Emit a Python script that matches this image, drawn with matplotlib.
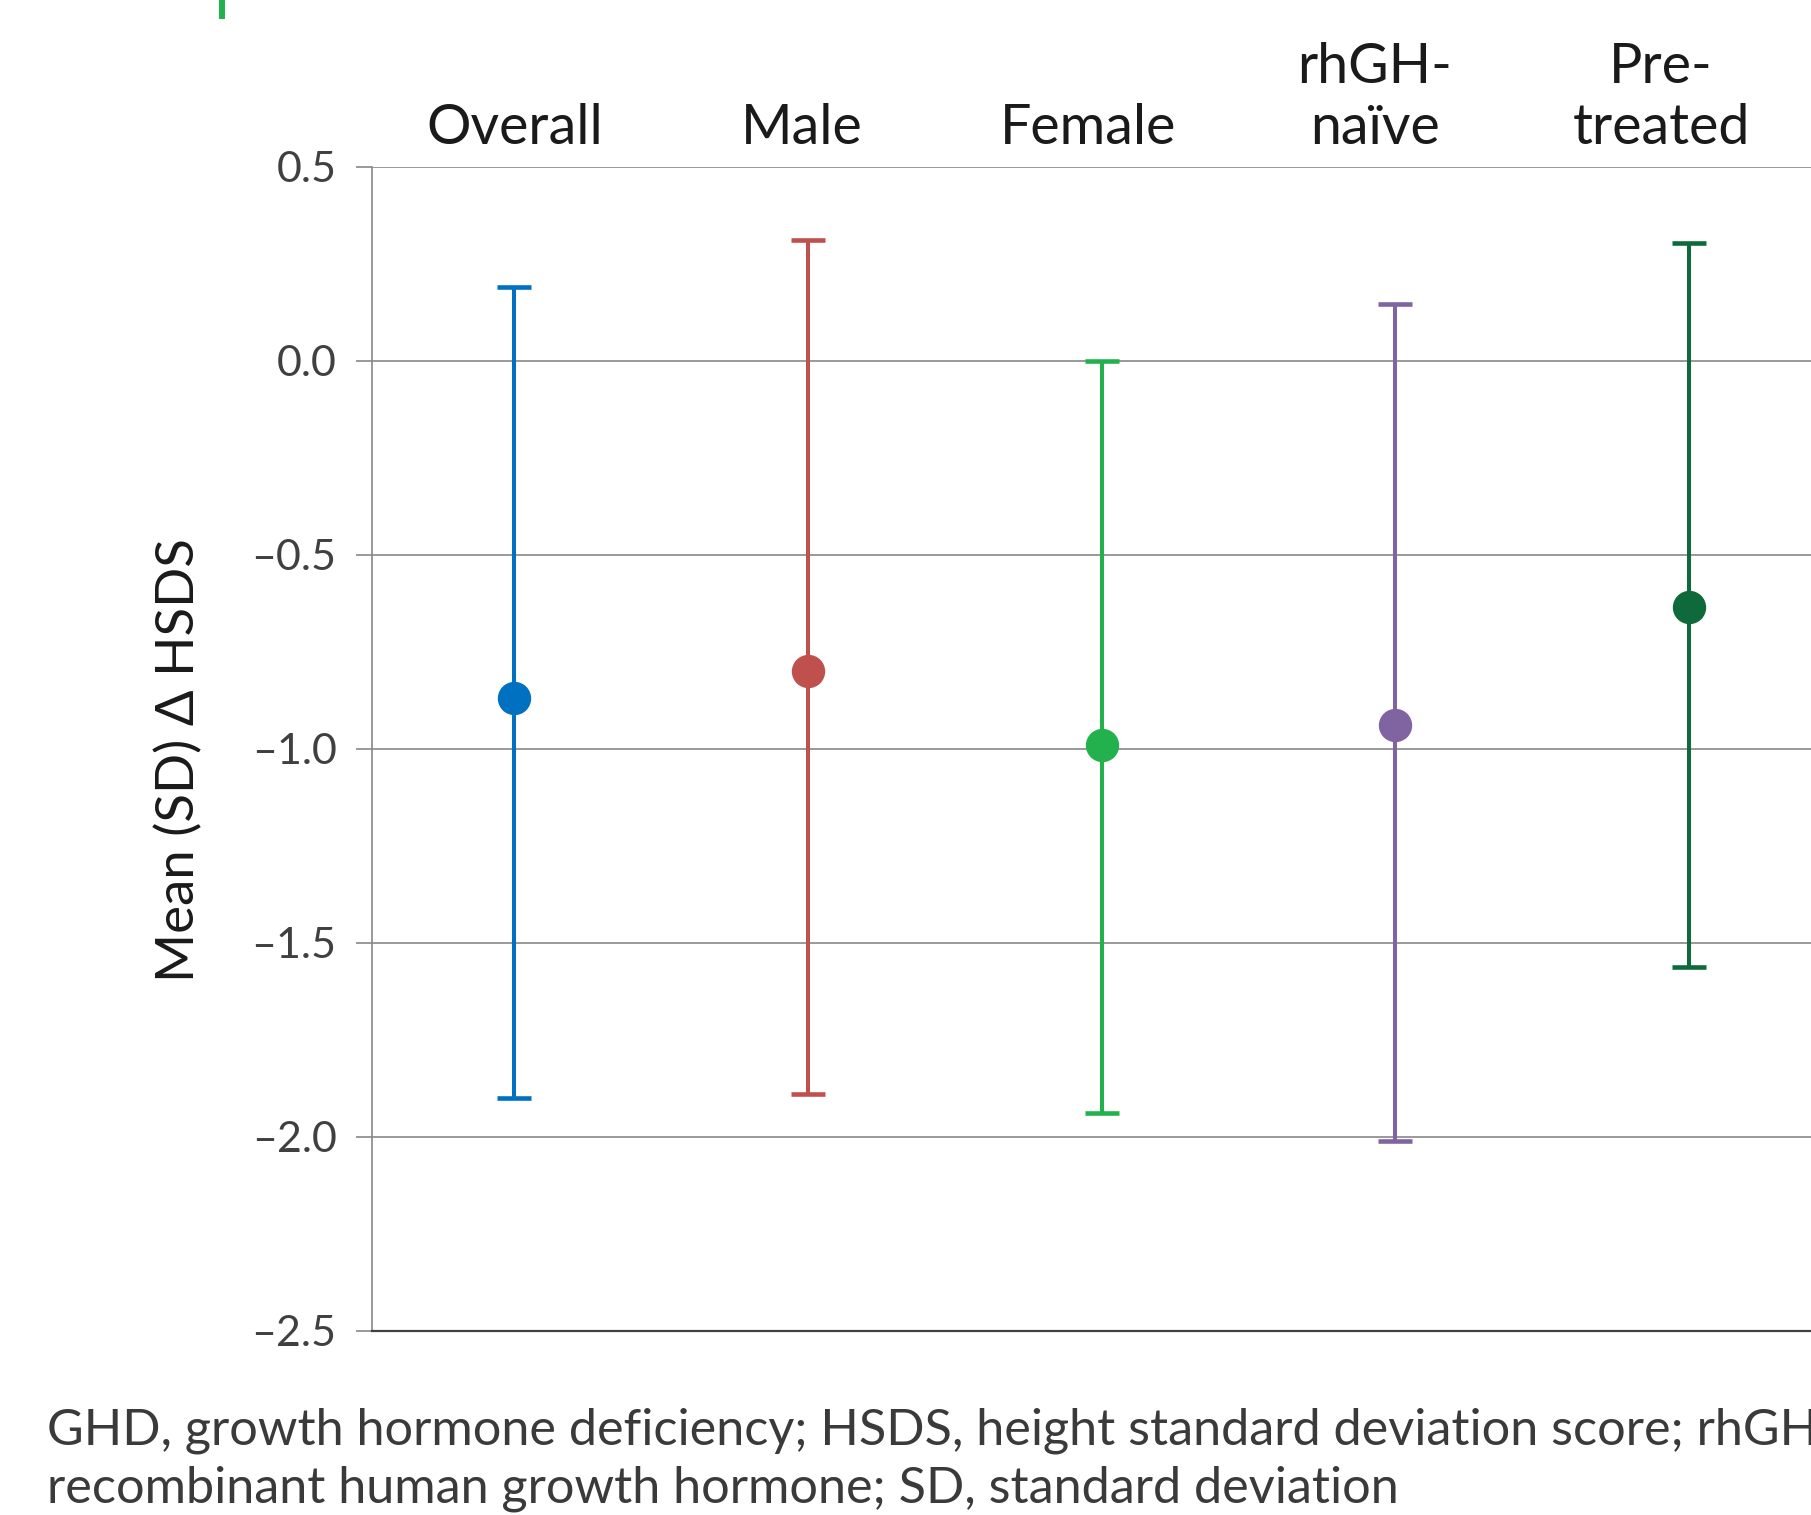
import numpy as np
import matplotlib.pyplot as plt
from matplotlib.lines import Line2D
from matplotlib.transforms import blended_transform_factory

groups = ["Overall", "Male", "Female", "rhGH-\nnaïve", "Pre-\ntreated"]
label_pos = [0.0, 0.98, 1.955, 2.93, 3.905]
means = [-0.87, -0.80, -0.99, -0.94, -0.635]
lower = [-1.90, -1.89, -1.94, -2.01, -1.563]
upper = [0.19, 0.31, 0.00, 0.145, 0.303]
colors = ["#0070C0", "#C0504D", "#23B14D", "#8064A2", "#0E6A3A"]
yticks = [0.5, 0.0, -0.5, -1.0, -1.5, -2.0, -2.5]
footnote = ["GHD, growth hormone deficiency; HSDS, height standard deviation score; rhGH,",
            "recombinant human growth hormone; SD, standard deviation"]

plt.rcParams['font.family'] = ['Lato', 'DejaVu Sans']

fig = plt.figure(figsize=(18.11, 15.15), dpi=100)
ax = fig.add_axes([0.2054, 0.1217, 0.7946, 0.7683])

x = np.arange(len(groups))
for i in range(len(groups)):
    err = [[means[i] - lower[i]], [upper[i] - means[i]]]
    ax.errorbar(x[i], means[i], yerr=err, fmt='o', color=colors[i],
                ms=23, elinewidth=2.9, capsize=12.5, capthick=3.3, zorder=3)

ax.set_xlim(-0.485, 4.416)
ax.set_ylim(-2.5, 0.5)
ax.set_yticks(yticks)
ax.set_yticklabels([f"{v:.1f}".replace("-", "\u2013") for v in yticks])
ax.set_xticks([])
ax.yaxis.grid(True, color="#888888", linewidth=1.2)
ax.set_axisbelow(True)
ax.tick_params(axis='y', length=11.5, width=1.2, color="#888888", pad=14,
               labelsize=31, labelcolor="#404040")
for s in ["top", "right"]:
    ax.spines[s].set_visible(False)
ax.spines["left"].set_color("#888888")
ax.spines["left"].set_linewidth(1.2)
ax.spines["bottom"].set_color("#404040")
ax.spines["bottom"].set_linewidth(1.6)

# category labels above the plot
tr = blended_transform_factory(ax.transData, ax.transAxes)
ylab = 1.0 + 22.7 / (1515 * 0.7683)
for i, g in enumerate(groups):
    ax.text(label_pos[i], ylab, g, transform=tr, ha='center', va='baseline',
            fontsize=40, color="#1a1a1a", linespacing=1.25, clip_on=False)

ax.set_ylabel("Mean (SD) \u0394 HSDS", fontsize=38, color="#1a1a1a")
ax.yaxis.set_label_coords(-0.117, 0.49)

fig.text(47 / 1811, 1 - 1444 / 1515, footnote[0], fontsize=36.3,
         color="#3a3a3a", va='baseline', ha='left')
fig.text(47 / 1811, 1 - 1502 / 1515, footnote[1], fontsize=36.3,
         color="#3a3a3a", va='baseline', ha='left')

fig.add_artist(Line2D([222 / 1811, 222 / 1811], [1.0, 1 - 15.7 / 1515],
                      transform=fig.transFigure, color="#23B14D", linewidth=4.3))

fig.savefig("out.png", dpi=100)
